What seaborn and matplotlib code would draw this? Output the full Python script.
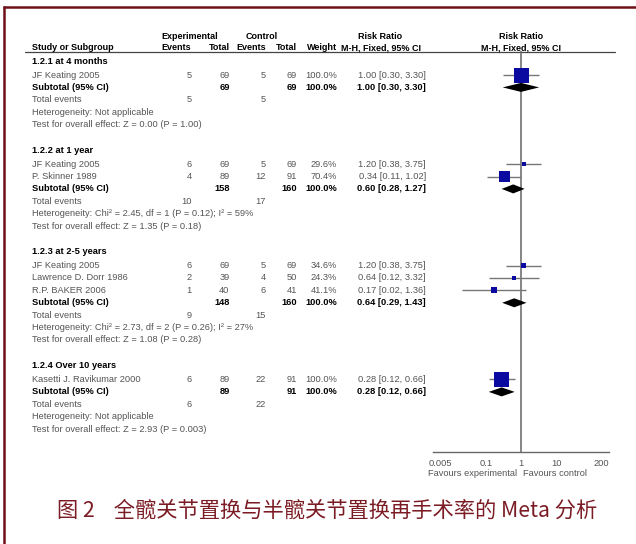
import numpy as np
import pandas as pd
import matplotlib
matplotlib.use('Agg')
import matplotlib.pyplot as plt
import seaborn as sns

# data
groups = ['1.2.1 at 4 months', '1.2.2 at 1 year', '1.2.3 at 2-5 years', '1.2.4 Over 10 years']
study_group = [0, 1, 1, 2, 2, 2, 3]
studies = ['JF Keating 2005', 'JF Keating 2005', 'P. Skinner 1989', 'JF Keating 2005',
           'Lawrence D. Dorr 1986', 'R.P. BAKER 2006', 'Kasetti J. Ravikumar 2000']
exp_events = [5, 6, 4, 6, 2, 1, 6]
exp_total = [69, 69, 89, 69, 39, 40, 89]
ctrl_events = [5, 5, 12, 5, 4, 6, 22]
ctrl_total = [69, 69, 91, 69, 50, 41, 91]
weight = [100.0, 29.6, 70.4, 34.6, 24.3, 41.1, 100.0]
rr = [1.00, 1.20, 0.34, 1.20, 0.64, 0.17, 0.28]
rr_lo = [0.30, 0.38, 0.11, 0.38, 0.12, 0.02, 0.12]
rr_hi = [3.30, 3.75, 1.02, 3.75, 3.32, 1.36, 0.66]

sub_rr = [1.00, 0.60, 0.64, 0.28]
sub_lo = [0.30, 0.28, 0.29, 0.12]
sub_hi = [3.30, 1.27, 1.43, 0.66]
heterogeneity = ['Not applicable',
                 'Chi\u00b2 = 2.45, df = 1 (P = 0.12); I\u00b2 = 59%',
                 'Chi\u00b2 = 2.73, df = 2 (P = 0.26); I\u00b2 = 27%',
                 'Not applicable']
overall = ['Z = 0.00 (P = 1.00)', 'Z = 1.35 (P = 0.18)', 'Z = 1.08 (P = 0.28)', 'Z = 2.93 (P = 0.003)']

tick_vals = [0.005, 0.1, 1, 10, 200]
tick_labels = ['0.005', '0.1', '1', '10', '200']
caption = '图 2    全髋关节置换与半髋关节置换再手术率的 Meta 分析'

df = pd.DataFrame({'group': study_group, 'study': studies,
                   'e_ev': exp_events, 'e_n': exp_total,
                   'c_ev': ctrl_events, 'c_n': ctrl_total,
                   'weight': weight, 'rr': rr, 'lo': rr_lo, 'hi': rr_hi})
sums = df.groupby('group')[['e_ev', 'e_n', 'c_ev', 'c_n']].sum()

sns.set_style('white')
plt.rcParams['font.family'] = ['Liberation Sans', 'DejaVu Sans']

W, H = 636, 544
fig = plt.figure(figsize=(W / 100, H / 100), dpi=100)
bg = fig.add_axes([0, 0, 1, 1])
bg.set_xlim(0, W)
bg.set_ylim(H, 0)
bg.axis('off')

# forest panel, y in the same pixel rows as the table
top, bottom = 51, 451.7
left, right = 433, 609
ax = fig.add_axes([left / W, (H - bottom) / H, (right - left) / W, (bottom - top) / H])
ax.set_xscale('log')
ax.set_xlim(10 ** -2.514, 10 ** 2.514)
ax.set_ylim(bottom, top)

grey = '#555555'
fs = 6.7
col_x = {'e_ev': 191.5, 'e_n': 229.5, 'c_ev': 266, 'c_n': 297, 'w': 337, 'rr': 426}


def txt(x, y, s, ha='left', bold=False, color=None, va='center', size=None):
    bg.text(x, y, s, ha=ha, va=va, fontsize=size or fs,
            fontweight='bold' if bold else 'normal',
            color=color or ('black' if bold else grey))


# header
hs = 6.5
txt(190, 39, 'Experimental', ha='center', bold=True, va='baseline', size=hs)
txt(262, 39, 'Control', ha='center', bold=True, va='baseline', size=hs)
txt(380, 39, 'Risk Ratio', ha='center', bold=True, va='baseline', size=hs)
txt(521, 39, 'Risk Ratio', ha='center', bold=True, va='baseline', size=hs)
txt(32, 50, 'Study or Subgroup', bold=True, va='baseline', size=hs)
txt(col_x['e_ev'], 50, 'Events', ha='right', bold=True, va='baseline', size=hs)
txt(col_x['e_n'], 50, 'Total', ha='right', bold=True, va='baseline', size=hs)
txt(col_x['c_ev'], 50, 'Events', ha='right', bold=True, va='baseline', size=hs)
txt(col_x['c_n'], 50, 'Total', ha='right', bold=True, va='baseline', size=hs)
txt(col_x['w'], 50, 'Weight', ha='right', bold=True, va='baseline', size=hs)
txt(381, 50, 'M-H, Fixed, 95% CI', ha='center', bold=True, va='baseline', size=hs)
txt(521, 50, 'M-H, Fixed, 95% CI', ha='center', bold=True, va='baseline', size=hs)
bg.plot([25, 615], [51.5, 51.5], color='#444444', lw=0.9)

study_y = []
sub_y = []
y = 61.0
for g, name in enumerate(groups):
    txt(32, y, name, bold=True)
    y += 14
    for _, r in df[df['group'] == g].iterrows():
        txt(32, y, r['study'])
        txt(col_x['e_ev'], y, str(r['e_ev']), ha='right')
        txt(col_x['e_n'], y, str(r['e_n']), ha='right')
        txt(col_x['c_ev'], y, str(r['c_ev']), ha='right')
        txt(col_x['c_n'], y, str(r['c_n']), ha='right')
        txt(col_x['w'], y, f"{r['weight']:.1f}%", ha='right')
        txt(col_x['rr'], y, f"{r['rr']:.2f} [{r['lo']:.2f}, {r['hi']:.2f}]", ha='right')
        study_y.append(y)
        y += 12.4
    txt(32, y, 'Subtotal (95% CI)', bold=True)
    txt(col_x['e_n'], y, str(sums.loc[g, 'e_n']), ha='right', bold=True)
    txt(col_x['c_n'], y, str(sums.loc[g, 'c_n']), ha='right', bold=True)
    txt(col_x['w'], y, '100.0%', ha='right', bold=True)
    txt(col_x['rr'], y, f"{sub_rr[g]:.2f} [{sub_lo[g]:.2f}, {sub_hi[g]:.2f}]", ha='right', bold=True)
    sub_y.append(y)
    y += 12.4
    txt(32, y, 'Total events')
    txt(col_x['e_ev'], y, str(sums.loc[g, 'e_ev']), ha='right')
    txt(col_x['c_ev'], y, str(sums.loc[g, 'c_ev']), ha='right')
    y += 12.4
    txt(32, y, 'Heterogeneity: ' + heterogeneity[g])
    y += 12.4
    txt(32, y, 'Test for overall effect: ' + overall[g])
    y += 25.5

df['y'] = study_y
df['s'] = (np.maximum(15 * df['weight'] / 100, 3.5) * 0.72) ** 2

# forest marks
ax.axvline(1, color='#666666', lw=1.1, zorder=1)
ax.hlines(df['y'], df['lo'], df['hi'], color='#777777', lw=1.0, zorder=2)
sns.scatterplot(data=df, x='rr', y='y', marker='s', s=df['s'].tolist(), color='#0a0aa0',
                linewidth=0, ax=ax, legend=False, zorder=3)
for g in range(4):
    ax.fill([sub_lo[g], sub_rr[g], sub_hi[g], sub_rr[g]],
            [sub_y[g], sub_y[g] - 4.5, sub_y[g], sub_y[g] + 4.5],
            color='black', lw=0, zorder=3)

ax.set_xlabel('')
ax.set_ylabel('')
ax.set_yticks([])
ax.set_xticks(tick_vals)
ax.set_xticklabels(tick_labels)
ax.minorticks_off()
ax.tick_params(axis='x', direction='inout', length=5, width=0.8, color='#666666',
               labelsize=fs, labelcolor=grey, pad=2.5)
for side in ['top', 'left', 'right']:
    ax.spines[side].set_visible(False)
ax.spines['bottom'].set_color('#666666')
ax.spines['bottom'].set_linewidth(1.0)
ax.patch.set_alpha(0)

txt(517, 473, 'Favours experimental', ha='right')
txt(523, 473, 'Favours control', ha='left')

# caption and frame
bg.text(57, 511, caption, ha='left', va='center', fontsize=15.3, color='#7b1c24',
        fontweight='light', family=['Noto Sans CJK SC', 'Liberation Sans'])
red = '#6e1016'
bg.plot([2.5, W], [6.5, 6.5], color=red, lw=1.8, solid_capstyle='butt')
bg.plot([3.5, 3.5], [6, H], color=red, lw=1.8, solid_capstyle='butt')

fig.savefig('out.png', dpi=100)
